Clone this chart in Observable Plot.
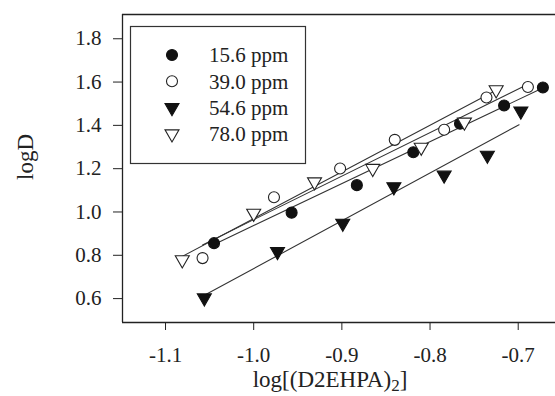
<!DOCTYPE html>
<html><head><meta charset="utf-8">
<script src="https://cdn.jsdelivr.net/npm/d3@7"></script>
<script src="https://cdn.jsdelivr.net/npm/@observablehq/plot@0.6"></script>
<style>
body{margin:0;background:#fff;overflow:hidden} svg{display:block}
#chart svg text{font-family:"Liberation Serif","Times New Roman",serif !important}
</style>
</head><body><div id="chart"></div>
<script>
const seriesNames = ["15.6 ppm", "39.0 ppm", "54.6 ppm", "78.0 ppm"];
const x156 = [-1.045, -0.957, -0.883, -0.819, -0.766, -0.716, -0.672];
const y156 = [0.856, 0.997, 1.124, 1.276, 1.408, 1.492, 1.575];
const x390 = [-1.058, -0.977, -0.902, -0.840, -0.784, -0.736, -0.689];
const y390 = [0.787, 1.068, 1.201, 1.333, 1.380, 1.529, 1.577];
const x546 = [-1.056, -0.973, -0.899, -0.841, -0.784, -0.735, -0.697];
const y546 = [0.603, 0.817, 0.948, 1.116, 1.170, 1.262, 1.466];
const x780 = [-1.081, -1.000, -0.931, -0.865, -0.810, -0.761, -0.725];
const y780 = [0.779, 0.994, 1.139, 1.201, 1.299, 1.415, 1.564];
// fitted lines (end points)
const fitX156 = [-1.045, -0.671], fitY156 = [0.850, 1.575];
const fitX390 = [-1.058, -0.689], fitY390 = [0.848, 1.590];
const fitX546 = [-1.057, -0.699], fitY546 = [0.613, 1.403];
const fitX780 = [-1.081, -0.725], fitY780 = [0.795, 1.562];
const xTicks = [-1.1, -1.0, -0.9, -0.8, -0.7];
const yTicks = [0.6, 0.8, 1.0, 1.2, 1.4, 1.6, 1.8];
const xDomain = [-1.1488, -0.6577];
const yDomain = [0.4896, 1.912];

const FONT = "Liberation Serif, Times New Roman, serif";
const pts = (xs, ys) => xs.map((x, i) => ({x, y: ys[i]}));
const styles = [
  {symbol: "circle", fill: "#111", stroke: "#111", rotate: 0, r: 5.5},
  {symbol: "circle", fill: "white", stroke: "#222", rotate: 0, r: 5.5},
  {symbol: "triangle", fill: "#111", stroke: "#111", rotate: 180, r: 5.2},
  {symbol: "triangle", fill: "white", stroke: "#222", rotate: 180, r: 5.2}
];
const sets = [[x156, y156], [x390, y390], [x546, y546], [x780, y780]];
const fits = [[fitX156, fitY156], [fitX390, fitY390], [fitX546, fitY546], [fitX780, fitY780]];

const marks = [
  Plot.axisX({ticks: xTicks, tickFormat: d => d.toFixed(1), tickSize: 8, tickPadding: 17, label: null, fontSize: 21, fontFamily: FONT, stroke: "#222"}),
  Plot.axisY({ticks: yTicks, tickFormat: d => d.toFixed(1), tickSize: 9, tickPadding: 12, label: null, fontSize: 21, fontFamily: FONT, stroke: "#222"}),
  Plot.ruleX([xDomain[0]], {stroke: "#222", strokeWidth: 1.3}),
  Plot.ruleY([yDomain[0], yDomain[1]], {stroke: "#222", strokeWidth: 1.3})
];
fits.forEach(([fx, fy]) => marks.push(Plot.line(pts(fx, fy), {x: "x", y: "y", stroke: "#333", strokeWidth: 1.1})));
sets.forEach(([xs, ys], i) => {
  const s = styles[i];
  marks.push(Plot.dot(pts(xs, ys), {x: "x", y: "y", symbol: s.symbol, r: s.r, fill: s.fill, stroke: s.stroke, strokeWidth: 1.1, rotate: s.rotate}));
});

const chart = Plot.plot({
  width: 555, height: 396,
  marginLeft: 122, marginRight: 0, marginTop: 14, marginBottom: 74,
  x: {domain: xDomain},
  y: {domain: yDomain},
  style: {fontFamily: FONT, fontSize: "21px", color: "#222", background: "white"},
  marks
});
document.getElementById("chart").append(chart);

// legend + titles
const svg = d3.select(chart);
const g = svg.append("g").attr("font-family", FONT).attr("fill", "#222").attr("text-anchor", "start");
g.append("rect").attr("x", 130.5).attr("y", 26.5).attr("width", 175).attr("height", 137)
  .attr("fill", "white").attr("stroke", "#333").attr("stroke-width", 1.2);
seriesNames.forEach((name, i) => {
  const s = styles[i];
  const yy = 55 + i * 26.3;
  const sym = d3.symbol(s.symbol === "circle" ? d3.symbolCircle : d3.symbolTriangle, s.r * s.r * Math.PI);
  g.append("path").attr("d", sym()).attr("transform", `translate(172,${yy}) rotate(${s.rotate})`)
    .attr("fill", s.fill).attr("stroke", s.stroke).attr("stroke-width", 1.1);
  g.append("text").attr("x", 209).attr("y", yy).attr("dy", "0.35em").attr("font-size", 21).text(name);
});
const xt = g.append("text").attr("x", 330).attr("y", 387).attr("text-anchor", "middle").attr("font-size", 23);
xt.append("tspan").text("log[(D2EHPA)");
xt.append("tspan").attr("dy", 4).attr("font-size", 17).text("2");
xt.append("tspan").attr("dy", -4).text("]");
g.append("text").attr("transform", "translate(33,157) rotate(-90)").attr("text-anchor", "middle").attr("font-size", 23).text("logD");
</script>
</body></html>
